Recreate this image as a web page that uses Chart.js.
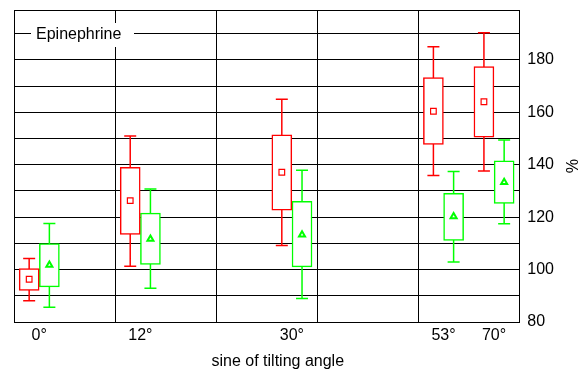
<!DOCTYPE html>
<html>
<head>
<meta charset="utf-8">
<script src="https://cdn.jsdelivr.net/npm/chart.js@4/dist/chart.umd.min.js"></script>
<style>
  html, body { margin: 0; padding: 0; background: #fff; }
  #wrap { width: 585px; height: 369px; }
</style>
</head>
<body>
<div id="wrap"><canvas id="chart"></canvas></div>
<script>
// categories, placed on the x axis (approx. sine of the angle)
const angleLabels = ['0°', '12°', '30°', '53°', '70°'];
const xPositions = [0, 0.2, 0.5, 0.8, 0.9];
const xGridLines = [-0.05, 0.15, 0.35, 0.55, 0.75, 0.95];

// red series
const redMin  = [88.1, 101.3, 109.2, 135.9, 137.6];
const redQ1   = [92.0, 113.4, 122.7, 147.7, 150.5];
const redQ3   = [100.4, 139.0, 151.4, 173.2, 177.4];
const redMax  = [104.2, 150.9, 165.0, 185.0, 190.3];
const redMean = [96.3, 126.3, 137.1, 160.4, 164.0];

// green series
const greenMin  = [85.6, 92.9, 89.0, 102.9, 117.5];
const greenQ1   = [93.4, 102.0, 101.0, 111.1, 125.2];
const greenQ3   = [109.9, 121.5, 126.0, 129.1, 141.5];
const greenMax  = [117.6, 130.7, 137.9, 137.4, 149.4];
const greenMean = [101.7, 111.7, 113.3, 120.2, 133.3];

// y axis
const yMin = 80, yMax = 199, yStep = 10, yLabelStep = 20;

const RED = '#ff0000', GREEN = '#00ff00';
const shift = 0.02;

function boxData(q1, q3, off) {
  return xPositions.map((x, i) => ({ x: x + off, y: [q1[i], q3[i]] }));
}
function whiskerData(lo, hi, off) {
  const pts = [];
  xPositions.forEach((x, i) => {
    pts.push({ x: x + off, y: lo[i] }, { x: x + off, y: hi[i] }, { x: x + off, y: null });
  });
  return pts;
}
function capData(lo, hi, off) {
  const pts = [];
  xPositions.forEach((x, i) => {
    pts.push({ x: x + off, y: lo[i] }, { x: x + off, y: hi[i] });
  });
  return pts;
}
function pointData(vals, off) {
  return xPositions.map((x, i) => ({ x: x + off, y: vals[i] }));
}

const boxLabel = {
  id: 'boxLabel',
  afterDraw(chart) {
    const { ctx, chartArea } = chart;
    ctx.save();
    ctx.fillStyle = '#fff';
    ctx.fillRect(chartArea.left + 17, chartArea.top + 13, 103, 24);
    ctx.fillStyle = '#000';
    ctx.font = '16px Arial, "Liberation Sans", sans-serif';
    ctx.textBaseline = 'middle';
    ctx.fillText('Epinephrine', chartArea.left + 22, chartArea.top + 25);
    ctx.restore();
  }
};

const font = { family: 'Arial, "Liberation Sans", sans-serif', size: 16, lineHeight: 1 };

new Chart(document.getElementById('chart').getContext('2d'), {
  type: 'bar',
  data: {
    datasets: [
      { type: 'scatter', data: pointData(redMean, -shift), pointStyle: 'rect', pointRadius: 4, borderColor: RED, backgroundColor: '#fff', borderWidth: 1.2, order: 0 },
      { type: 'scatter', data: pointData(greenMean, shift), pointStyle: 'triangle', pointRadius: 3.5, borderColor: GREEN, backgroundColor: '#fff', borderWidth: 2, order: 0 },
      { type: 'bar', data: boxData(redQ1, redQ3, -shift), backgroundColor: '#fff', borderColor: RED, borderWidth: 1.5, borderSkipped: false, barThickness: 20, grouped: false, order: 1 },
      { type: 'bar', data: boxData(greenQ1, greenQ3, shift), backgroundColor: '#fff', borderColor: GREEN, borderWidth: 1.5, borderSkipped: false, barThickness: 20, grouped: false, order: 1 },
      { type: 'scatter', data: capData(redMin, redMax, -shift), pointStyle: 'line', pointRadius: 6, borderColor: RED, borderWidth: 1.5, order: 2 },
      { type: 'scatter', data: capData(greenMin, greenMax, shift), pointStyle: 'line', pointRadius: 6, borderColor: GREEN, borderWidth: 1.5, order: 2 },
      { type: 'line', data: whiskerData(redMin, redMax, -shift), borderColor: RED, borderWidth: 1.5, pointRadius: 0, spanGaps: false, fill: false, order: 3 },
      { type: 'line', data: whiskerData(greenMin, greenMax, shift), borderColor: GREEN, borderWidth: 1.5, pointRadius: 0, spanGaps: false, fill: false, order: 3 }
    ]
  },
  options: {
    responsive: true,
    maintainAspectRatio: false,
    animation: false,
    layout: { padding: { left: 14, top: 0, right: -5, bottom: -1 } },
    plugins: { legend: { display: false }, tooltip: { enabled: false } },
    scales: {
      x: {
        type: 'linear',
        offset: false,
        min: xGridLines[0],
        max: xGridLines[xGridLines.length - 1],
        afterBuildTicks(axis) {
          axis.ticks = xGridLines.concat(xPositions).sort((a, b) => a - b).map(v => ({ value: v }));
        },
        grid: {
          offset: false,
          color: ctx => (ctx.tick && xPositions.includes(ctx.tick.value)) ? 'rgba(0,0,0,0)' : '#000',
          lineWidth: 1,
          drawTicks: false
        },
        border: { display: true, color: '#000', width: 1 },
        ticks: {
          autoSkip: false,
          maxRotation: 0,
          padding: 6,
          color: '#000',
          font: font,
          callback: v => {
            const i = xPositions.indexOf(v);
            return i >= 0 ? angleLabels[i] : '';
          }
        },
        title: { display: true, text: '\u00a0\u00a0\u00a0\u00a0\u00a0sine of tilting angle', color: '#000', font: font, padding: { top: 4, bottom: 0 } }
      },
      y: {
        type: 'linear',
        position: 'right',
        min: yMin,
        max: yMax,
        grid: { color: '#000', lineWidth: 1, drawTicks: false },
        border: { display: true, color: '#000', width: 1 },
        ticks: {
          stepSize: yStep,
          padding: 8,
          color: '#000',
          font: { family: font.family, size: 16, lineHeight: 0.25 },
          callback: v => (v % yLabelStep === 0) ? String(v) : ''
        },
        title: { display: true, text: '%', color: '#000', font: font, padding: { top: 12, bottom: 0 } }
      }
    }
  },
  plugins: [boxLabel]
});
</script>
</body>
</html>
